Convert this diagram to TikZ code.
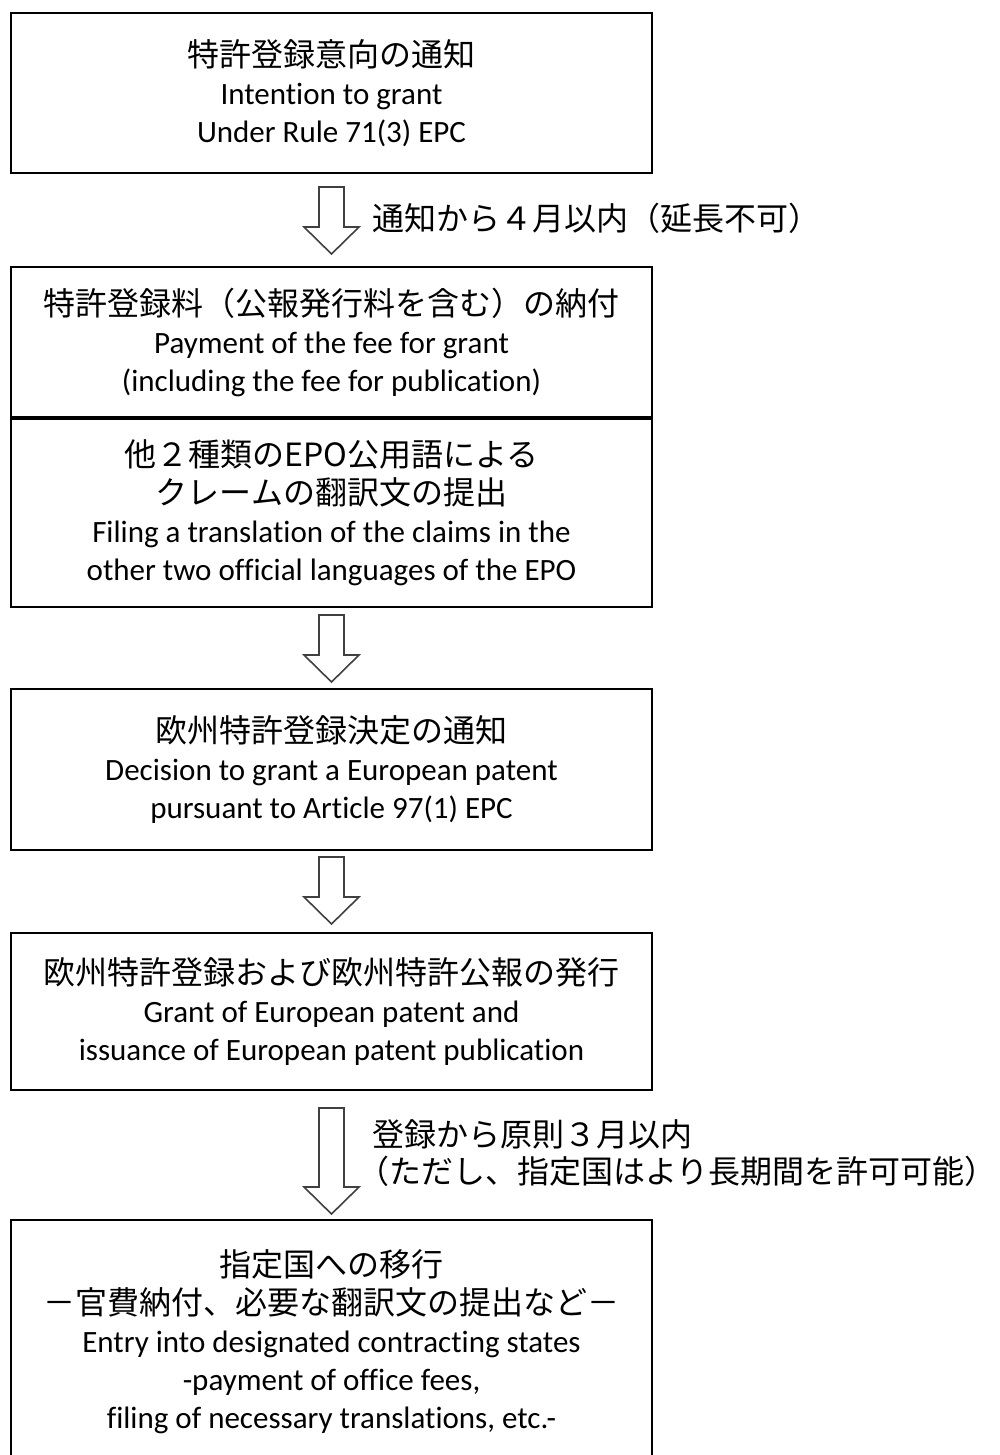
\documentclass[tikz,border=0pt]{standalone}
\usepackage{fontspec}
\setmainfont{Carlito}[Ligatures=NoCommon]
\newfontfamily\jp{Noto Sans CJK JP}
\usetikzlibrary{positioning,calc}

\newcommand{\jatext}[1]{{\jp\fontsize{32}{38}\selectfont #1}}
\newcommand{\hollowdown}[2]{%
  \draw[hollow] ($(#1)+(-12.5,0)$) -- ($(#1)+(12.5,0)$) -- ($(#2)+(12.5,-27)$)
    -- ($(#2)+(27.5,-27)$) -- (#2) -- ($(#2)+(-27.5,-27)$) -- ($(#2)+(-12.5,-27)$) -- cycle;}

\tikzset{
  stepbox/.style={draw, line width=1.8pt, outer sep=0pt, inner sep=0pt,
    minimum width=641pt, align=center, font=\fontsize{31}{38}\selectfont},
  hollow/.style={draw=black!75, line width=1.6pt, fill=white},
  note/.style={anchor=west, align=left, inner sep=0pt,
    font=\jp\fontsize{32}{37}\selectfont}
}

\begin{document}
\begin{tikzpicture}[x=1pt, y=-1pt]
  \useasboundingbox (0,0) rectangle (999,1455);
  \clip (0,0) rectangle (999,1455);

  \node[stepbox, minimum height=160pt] (intent) at (331.5,93)
    {\jatext{特許登録意向の通知}\\Intention to grant\\Under Rule 71(3) EPC};
  \node[stepbox, minimum height=151pt] (fee) at (331.5,342.5)
    {\jatext{特許登録料（公報発行料を含む）の納付}\\Payment of the fee for grant\\(including the fee for publication)};
  \node[stepbox, minimum height=189pt, below=0pt of fee] (transl)
    {\jatext{他２種類のEPO公用語による}\\\jatext{クレームの翻訳文の提出}\\
     Filing a translation of the claims in the\\other two official languages of the EPO};
  \draw[line width=3.5pt] (fee.south west) -- (fee.south east);
  \node[stepbox, minimum height=161pt] (decision) at (331.5,769.5)
    {\jatext{欧州特許登録決定の通知}\\Decision to grant a European patent\\pursuant to Article 97(1) EPC};
  \node[stepbox, minimum height=157pt] (grant) at (331.5,1011.5)
    {\jatext{欧州特許登録および欧州特許公報の発行}\\Grant of European patent and\\issuance of European patent publication};
  \node[stepbox, minimum height=244pt] (entry) at (331.5,1342)
    {\jatext{指定国への移行}\\\jatext{－官費納付、必要な翻訳文の提出など－}\\
     Entry into designated contracting states\\-payment of office fees,\\filing of necessary translations, etc.-};

  % block arrows between the steps
  \coordinate (t1) at ([yshift=-14pt]intent.south);
  \coordinate (p1) at ([yshift=13pt]fee.north);
  \coordinate (t2) at ([yshift=-8pt]transl.south);
  \coordinate (p2) at ([yshift=7pt]decision.north);
  \coordinate (t3) at ([yshift=-7pt]decision.south);
  \coordinate (p3) at ([yshift=9pt]grant.north);
  \coordinate (t4) at ([yshift=-18pt]grant.south);
  \coordinate (p4) at ([yshift=6pt]entry.north);
  \hollowdown{t1}{p1}
  \hollowdown{t2}{p2}
  \hollowdown{t3}{p3}
  \hollowdown{t4}{p4}

  \node[note] (limit1) at (372,218) {通知から４月以内（延長不可）};
  \node[note] (limit2) at (357,1153.5)
    {\hspace*{15pt}登録から原則３月以内\\（ただし、指定国はより長期間を許可可能）};
\end{tikzpicture}
\end{document}
